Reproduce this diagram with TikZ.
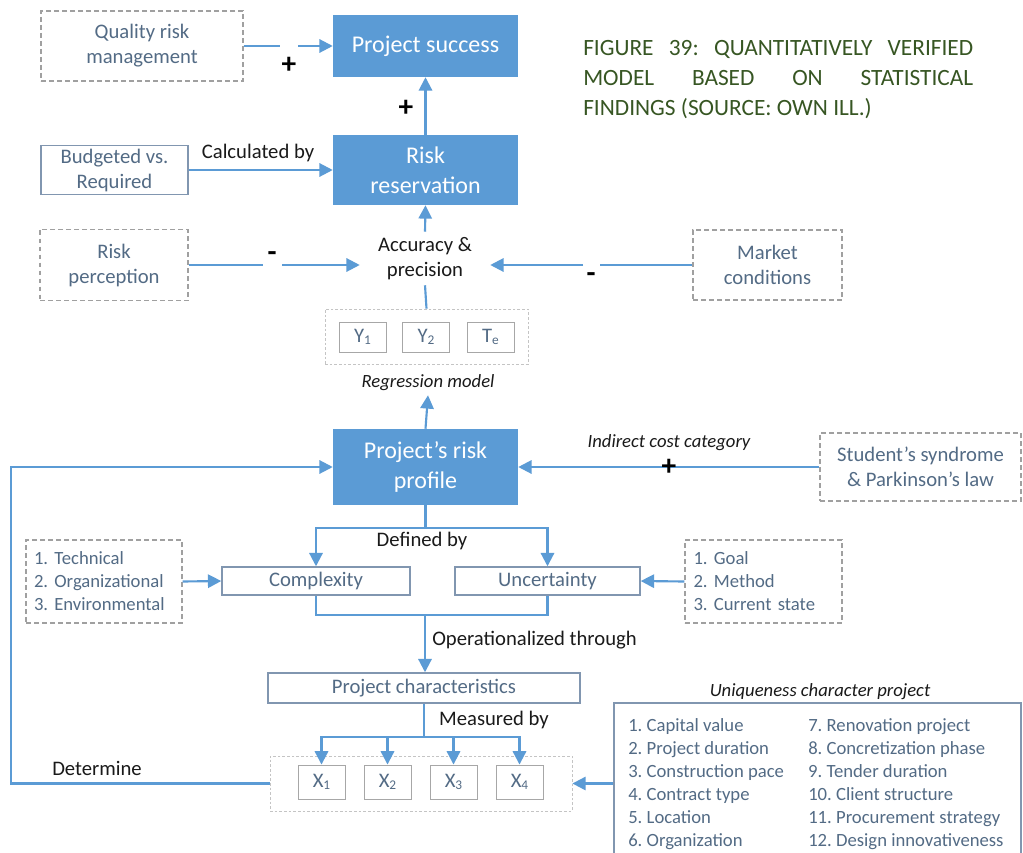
\documentclass[tikz,border=0pt]{standalone}
\usepackage{fontspec}
\setmainfont{Carlito}
\usetikzlibrary{arrows.meta}
\definecolor{bfill}{HTML}{5B9BD5}
\definecolor{gtext}{HTML}{536B85}
\definecolor{sborder}{HTML}{8196B0}
\definecolor{dborder}{HTML}{A0A0A0}
\definecolor{lborder}{HTML}{C4C4C4}
\definecolor{tgreen}{HTML}{375623}
\definecolor{ink}{HTML}{1A1A1A}
\tikzset{
 sz/.style 2 args={minimum width=#1*0.75pt, minimum height=#2*0.75pt},
 base/.style={inner sep=0pt, align=center, font=\fontsize{15.5}{18.75}\selectfont},
 bluebox/.style={base, fill=bfill, text=white, font=\fontsize{18}{22.5}\selectfont},
 sbox/.style={base, draw=sborder, line width=1.1pt, text=gtext},
 dbox/.style={base, draw=dborder, line width=0.9pt, dash pattern=on 3.5pt off 2.5pt, text=gtext},
 gbox/.style={draw=lborder, line width=0.6pt, dash pattern=on 2pt off 1.5pt, inner sep=0pt},
 ibox/.style={base, draw=lborder!85!black, line width=0.7pt, text=gtext},
 lbl/.style={inner sep=0pt, text=ink, font=\fontsize{15.5}{18.75}\selectfont, align=center},
 ilbl/.style={inner sep=0pt, text=ink, font=\fontsize{14}{17}\selectfont\itshape},
 sign/.style={inner sep=0pt, text=black, font=\fontsize{22}{22}\selectfont\bfseries},
 ln/.style={draw=bfill, line width=1.6pt},
 arr/.style={ln, -{Triangle[length=10pt,width=10pt]}},
 lst/.style={dbox, align=left, text width=105pt, inner xsep=6pt, font=\fontsize{14}{17.25}\selectfont},
}
\newcommand{\sbs}[1]{\raisebox{-1pt}{\fontsize{10}{10}\selectfont #1}}
\frenchspacing
\begin{document}
\begin{tikzpicture}[x=0.75pt,y=-0.75pt]
\useasboundingbox (0,0) rectangle (1023,852);
\fill[white] (0,0) rectangle (1023,852);
\clip (0,0) rectangle (1023,852);

% title
\node[anchor=north west, inner sep=0pt, text width=292.5pt, align=justify, text=tgreen,
      font=\fontsize{17.5}{22.5}\selectfont] (title) at (583,40)
 {\hyphenpenalty=10000 FIGURE 39: QUANTITATIVELY VERIFIED\linebreak MODEL BASED ON STATISTICAL\linebreak FINDINGS (SOURCE: OWN ILL.)};

% top part
\node[bluebox, sz={185}{62}] (ps) at (425.5,46) {Project success};
\node[dbox, sz={202}{70}] (qrm) at (142,46) {Quality risk\\management};
\node[bluebox, sz={185}{70}] (rr) at (425.5,170) {Risk\\reservation};
\node[sbox, sz={147}{49}] (bud) at (114.5,170) {Budgeted vs.\\Required};
\node[lbl] (calc) at (258,153) {Calculated by};
\node[dbox, sz={148}{71}] (rp) at (114,265) {Risk\\perception};
\node[lbl, sz={130}{53}] (acc) at (425,258.5) {Accuracy \&\\precision};
\node[dbox, sz={149}{70}] (mc) at (767.5,265) {Market\\conditions};

\coordinate (g1a) at (280,46);
\coordinate (g1b) at (298,46);
\coordinate (g2a) at (263,265);
\coordinate (g2b) at (282,265);
\coordinate (g3a) at (600,265);
\coordinate (g3b) at (583,265);

\draw[ln] (qrm.east) -- (g1a);
\draw[arr] (g1b) -- (ps.west);
\node[sign] (p1) at (289,65) {+};
\draw[arr] (rr.north) -- (ps.south);
\node[sign] (p2) at (406,108) {+};
\draw[arr] (bud.east) -- (bud.east -| rr.west);
\draw[arr] (acc.north) -- (rr.south);
\draw[ln] (rp.east) -- (g2a);
\draw[arr] (g2b) -- (g2b -| acc.west);
\node[sign] (m1) at (272,257) {-};
\draw[ln] (mc.west) -- (g3a);
\draw[arr] (g3b) -- (g3b -| acc.east);
\node[sign] (m2) at (591,278) {-};

% regression model group
\node[gbox, sz={203}{55}] (yg) at (426.5,336.5) {};
\node[ibox, sz={47}{30}] (y1) at (362.5,337) {Y\sbs{1}};
\node[ibox, sz={47}{30}] (y2) at (426,337) {Y\sbs{2}};
\node[ibox, sz={47}{30}] (te) at (490.5,337) {T\sbs{e}};
\draw[ln] (acc.south) -- (yg.north);
\node[ilbl, sz={150}{24}] (reg) at (428,383) {Regression model};

% risk profile
\node[bluebox, sz={185}{76}] (prp) at (425.5,467) {Project’s risk\\profile};
\draw[arr] (prp.north) -- (reg.south);
\node[dbox, sz={201}{68}] (stu) at (920.5,467) {Student’s syndrome\\\& Parkinson’s law};
\draw[arr] (stu.west) -- (prp.east);
\node[ilbl] (ind) at (669,443) {Indirect cost category};
\node[sign] (p3) at (669,467) {+};

% defined by
\node[lbl] (def) at (422,541) {Defined by};
\node[sbox, sz={188}{28}] (cx) at (316,581) {Complexity};
\node[sbox, sz={185}{28}] (un) at (547.5,581) {Uncertainty};
\coordinate (j1) at (425.5,528);
\draw[ln] (prp.south) -- (j1);
\draw[arr] (j1) -| (cx.north);
\draw[arr] (j1) -| (un.north);

\node[lst, sz={156}{83}] (tech) at (104,581.5) {1. Technical\\2. Organizational\\3. Environmental};
\node[lst, sz={157}{83}] (goal) at (763.5,581.5) {1. Goal\\2. Method\\3. Current state};
\draw[arr] (tech.east) -- (cx.west);
\draw[arr] (goal.west) -- (un.east);

% operationalized
\coordinate (j2) at (425,615);
\draw[ln] (cx.south) |- (j2) -| (un.south);
\node[sbox, sz={312}{30}] (pc) at (424,688) {Project characteristics};
\draw[arr] (j2) -- (j2 |- pc.north);
\node[lbl, anchor=west] (op) at (432,640) {Operationalized through};

% measured by
\node[lbl] (mb) at (494,720) {Measured by};
\node[gbox, sz={302}{55}] (xg) at (421,783.5) {};
\node[ibox, sz={47}{34}] (x1) at (321.5,782) {X\sbs{1}};
\node[ibox, sz={47}{34}] (x2) at (387.5,782) {X\sbs{2}};
\node[ibox, sz={47}{34}] (x3) at (453.5,782) {X\sbs{3}};
\node[ibox, sz={47}{34}] (x4) at (519.5,782) {X\sbs{4}};
\coordinate (j3) at (424,737);
\draw[ln] (pc.south) -- (j3);
\draw[arr] (j3) -| (x1.north);
\draw[arr] (j3) -| (x2.north);
\draw[arr] (j3) -| (x3.north);
\draw[arr] (j3) -| (x4.north);

% determine loop
\coordinate (lp) at (11,467);
\draw[arr] (xg.west) -- (xg.west -| lp) -- (lp) -- (prp.west);
\node[lbl] (det) at (97,768) {Determine};

% uniqueness
\node[ilbl] (uqt) at (820,692) {Uniqueness character project};
\node[sbox, sz={407}{163}] (uq) at (817.5,784.5) {};
\node[anchor=west, inner sep=0pt, text=gtext, font=\fontsize{14}{17.25}\selectfont] (uql) at (628,784.5)
 {\begin{tabular}{@{}p{135pt}@{}l@{}}
 1. Capital value & 7. Renovation project\\
 2. Project duration & 8. Concretization phase\\
 3. Construction pace & 9. Tender duration\\
 4. Contract type & 10. Client structure\\
 5. Location & 11. Procurement strategy\\
 6. Organization & 12. Design innovativeness
 \end{tabular}};
\draw[arr] (uq.west |- xg.east) -- (xg.east);
\end{tikzpicture}
\end{document}
